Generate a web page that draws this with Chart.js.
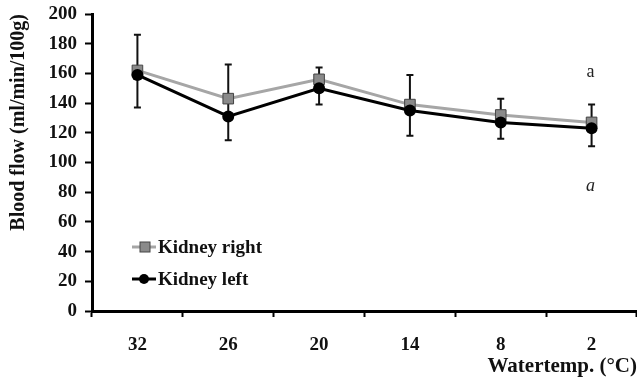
<!DOCTYPE html>
<html>
<head>
<meta charset="utf-8">
<script src="https://cdn.jsdelivr.net/npm/chart.js@4/dist/chart.umd.min.js"></script>
<style>
    html, body { margin: 0; padding: 0; background: #fff; }
    #wrap { width: 637px; height: 386px; }
</style>
</head>
<body>
<div id="wrap"><canvas id="chart"></canvas></div>
<script>
// 数据
var categories = ['32', '26', '20', '14', '8', '2'];
var kidneyRight = [162, 143, 156, 139, 132, 127];
var kidneyLeft = [159, 131, 150, 135, 127, 123];
var errUpper = [186, 166, 164, 159, 143, 139];
var errLower = [137, 115, 139, 118, 116, 111];
// 右侧的字母标注 (最后一个类别)
var noteTexts = ['a', 'a'];
var noteValues = [161, 84];
var noteItalic = [false, true];

var serif = '"Liberation Serif", "Times New Roman", serif';

/**
 * 误差线
 */
var errorBars = {
    id: 'errorBars',
    beforeDatasetsDraw: function (chart) {
        var ctx = chart.ctx, x = chart.scales.x, y = chart.scales.y;
        ctx.save();
        ctx.strokeStyle = '#111';
        ctx.lineWidth = 2;
        for (var i = 0; i < categories.length; i++) {
            var px = x.getPixelForValue(i);
            var top = y.getPixelForValue(errUpper[i]);
            var bot = y.getPixelForValue(errLower[i]);
            ctx.beginPath();
            ctx.moveTo(px, top); ctx.lineTo(px, bot);
            ctx.moveTo(px - 3.5, top); ctx.lineTo(px + 3.5, top);
            ctx.moveTo(px - 3.5, bot); ctx.lineTo(px + 3.5, bot);
            ctx.stroke();
        }
        ctx.restore();
    }
};

/**
 * 标注 + 图例
 */
var extras = {
    id: 'extras',
    afterDraw: function (chart) {
        var ctx = chart.ctx, x = chart.scales.x, y = chart.scales.y;
        var area = chart.chartArea;
        ctx.save();
        ctx.fillStyle = '#222';
        ctx.textAlign = 'center';
        ctx.textBaseline = 'middle';
        var last = categories.length - 1;
        for (var i = 0; i < noteTexts.length; i++) {
            ctx.font = (noteItalic[i] ? 'italic ' : '') + '18px ' + serif;
            ctx.fillText(noteTexts[i], x.getPixelForValue(last) - 1, y.getPixelForValue(noteValues[i]));
        }

        //图例
        var rows = [
            {ds: chart.data.datasets[0], y: area.top + 233},
            {ds: chart.data.datasets[1], y: area.top + 265}
        ];
        var lx = area.left + 40;
        rows.forEach(function (r) {
            var ds = r.ds;
            ctx.strokeStyle = ds.borderColor;
            ctx.lineWidth = 3;
            ctx.beginPath();
            ctx.moveTo(lx, r.y); ctx.lineTo(lx + 24, r.y);
            ctx.stroke();
            ctx.fillStyle = ds.pointBackgroundColor;
            ctx.strokeStyle = ds.pointBorderColor;
            ctx.lineWidth = 1;
            if (ds.pointStyle === 'rect') {
                ctx.fillRect(lx + 8, r.y - 5, 10, 10);
                ctx.strokeRect(lx + 8, r.y - 5, 10, 10);
            } else {
                ctx.beginPath();
                ctx.arc(lx + 12, r.y, 5, 0, Math.PI * 2);
                ctx.fill();
            }
            ctx.fillStyle = '#111';
            ctx.textAlign = 'left';
            ctx.font = 'bold 19px ' + serif;
            ctx.fillText(ds.label, lx + 26, r.y + 1);
        });
        ctx.restore();
    }
};

var ctx = document.getElementById('chart').getContext('2d');
window.myChart = new Chart(ctx, {
    type: 'line',
    data: {
        labels: categories,
        datasets: [{
            label: 'Kidney right',
            data: kidneyRight,
            borderColor: '#a6a6a6',
            borderWidth: 3,
            pointStyle: 'rect',
            pointRadius: 7.5,
            pointBackgroundColor: '#8a8a8a',
            pointBorderColor: '#444',
            pointBorderWidth: 1,
            lineTension: 0,
            order: 1
        }, {
            label: 'Kidney left',
            data: kidneyLeft,
            borderColor: '#000',
            borderWidth: 3,
            pointStyle: 'circle',
            pointRadius: 6,
            pointBackgroundColor: '#000',
            pointBorderColor: '#000',
            pointBorderWidth: 0,
            lineTension: 0,
            order: 0
        }]
    },
    options: {
        responsive: true,
        maintainAspectRatio: false,
        animation: false,
        layout: { autoPadding: false, padding: { top: 14, right: 0, left: 0, bottom: 0 } },
        plugins: {
            legend: { display: false },
            tooltip: { enabled: false }
        },
        scales: {
            x: {
                offset: true,
                grid: { offset: true, drawOnChartArea: false, tickLength: 6, tickColor: '#000', tickWidth: 2 },
                border: { color: '#000', width: 3 },
                ticks: { color: '#111', padding: 17, font: { family: serif, size: 19, weight: 'bold' } },
                title: {
                    display: true, text: 'Watertemp. (°C)', align: 'end', color: '#111',
                    font: { family: serif, size: 21, weight: 'bold' },
                    padding: { top: 0, bottom: 7 }
                },
                afterFit: function (scale) {
                    scale.height = 75;
                    scale.paddingLeft = 0;
                    scale.paddingRight = 0;
                }
            },
            y: {
                min: 0, max: 200,
                grid: { drawOnChartArea: false, tickLength: 7, tickColor: '#000', tickWidth: 2 },
                border: { color: '#000', width: 3 },
                ticks: { stepSize: 20, color: '#111', padding: 8, font: { family: serif, size: 19, weight: 'bold' } },
                title: {
                    display: true, text: 'Blood flow (ml/min/100g)', align: 'end', color: '#111',
                    font: { family: serif, size: 20, weight: 'bold' },
                    padding: { top: 7, bottom: 0 }
                },
                afterFit: function (scale) {
                    scale.width = 92;
                    scale.paddingTop = 0;
                    scale.paddingBottom = 0;
                }
            }
        }
    },
    plugins: [errorBars, extras]
});
</script>
</body>
</html>
